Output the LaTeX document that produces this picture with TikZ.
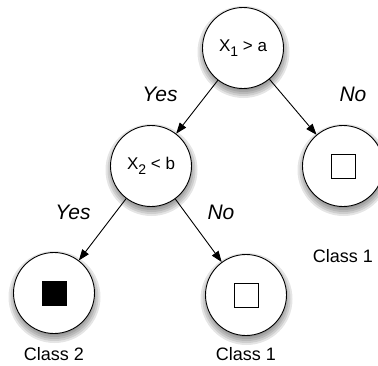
\documentclass[tikz,border=0pt]{standalone}
\usepackage{fontspec}
\setmainfont{Liberation Sans}
\usetikzlibrary{arrows.meta,calc,backgrounds}

% sombra difusa bajo un nodo circular
\newcommand{\sombra}[1]{%
  \foreach \rad in {34,36,...,46}
    \fill[black,opacity=0.1] ($(#1)+(0.5,4)$) circle (\rad);}

\begin{document}
\begin{tikzpicture}[x=1pt,y=-1pt,line width=0.9pt,>={Triangle[length=11pt,width=8pt]},
  nodo/.style={circle,draw,fill=white,minimum size=81pt,inner sep=0pt,font=\fontsize{17}{19}\selectfont},
  rama/.style={font=\fontsize{21}{24}\selectfont\itshape},
  clase/.style={font=\fontsize{18}{20}\selectfont}]
  \useasboundingbox (0,0) rectangle (378,365);
  % nodos de decision
  \node[nodo] (raiz) at (243,48) {X\raisebox{-0.55ex}{\fontsize{14}{14}\selectfont 1} > a};
  \node[nodo] (medio) at (151,166) {X\raisebox{-0.55ex}{\fontsize{14}{14}\selectfont 2} < b};
  % hojas
  \node[nodo] (hojaA) at (343,166) {};
  \node[nodo] (hojaB) at (54,293) {};
  \node[nodo] (hojaC) at (246,295) {};
  \draw[line width=0.9pt] ($(hojaA)+(-12,-12)$) rectangle ++(24,24);
  \fill ($(hojaB)+(-12.5,-12.5)$) rectangle ++(25,25);
  \draw[line width=0.9pt] ($(hojaC)+(-12,-12)$) rectangle ++(24,24);
  \node[clase] (cA) at (343,256) {Class 1};
  \node[clase] (cB) at (54,354) {Class 2};
  \node[clase] (cC) at (246,354) {Class 1};
  % aristas
  \draw[->] (raiz) -- (medio);
  \draw[->] (raiz) -- (hojaA);
  \draw[->] (medio) -- (hojaB);
  \draw[->] (medio) -- (hojaC);
  \node[rama] (y1) at (160,94) {Yes};
  \node[rama] (n1) at (353,94) {No};
  \node[rama] (y2) at (73,212) {Yes};
  \node[rama] (n2) at (221,212) {No};
  % sombras
  \begin{scope}[on background layer]
    \foreach \n in {raiz,medio,hojaA,hojaB,hojaC} {\sombra{\n}}
  \end{scope}
\end{tikzpicture}
\end{document}
